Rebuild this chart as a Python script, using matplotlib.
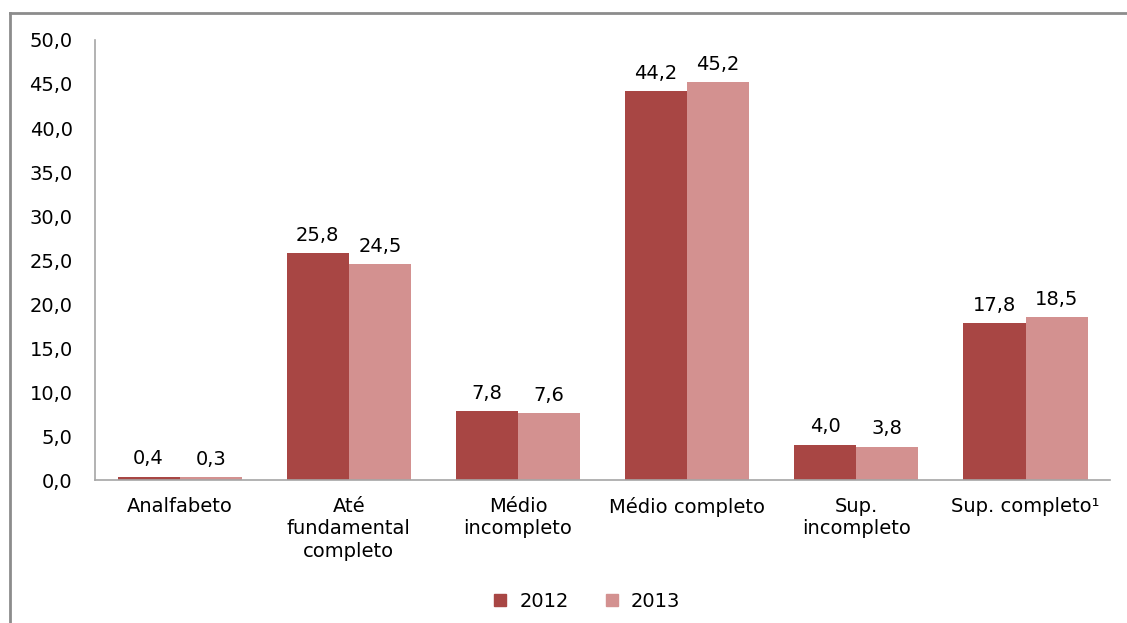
import matplotlib
matplotlib.use("Agg")
import matplotlib.pyplot as plt
from matplotlib.lines import Line2D
import numpy as np

plt.rcParams['font.family'] = ['DejaVu Sans']

categories = ["Analfabeto", "Até\nfundamental\ncompleto", "Médio\nincompleto",
              "Médio completo", "Sup.\nincompleto", "Sup. completo¹"]
series_names = ["2012", "2013"]
values_2012 = [0.4, 25.8, 7.8, 44.2, 4.0, 17.8]
values_2013 = [0.3, 24.5, 7.6, 45.2, 3.8, 18.5]
yticks = [0, 5, 10, 15, 20, 25, 30, 35, 40, 45, 50]

colors = ["#A84644", "#D39190"]
fs = 14

fig = plt.figure(figsize=(11.27, 6.23), dpi=100)
ax = fig.add_axes([0.0843, 0.2295, 0.9007, 0.7063])

x = np.arange(len(categories))
w = 0.367
fmt = lambda v: f"{v:.1f}".replace(".", ",")
for vals, off, c in [(values_2012, -w / 2, colors[0]), (values_2013, w / 2, colors[1])]:
    bars = ax.bar(x + off, vals, width=w, color=c)
    for b, v in zip(bars, vals):
        ax.annotate(fmt(v), (b.get_x() + b.get_width() / 2, v), xytext=(0, 6),
                    textcoords="offset points", ha="center", va="bottom", fontsize=fs)

ax.set_xlim(-0.5, len(categories) - 0.5)
ax.set_ylim(0, 50)
ax.set_yticks(yticks)
ax.set_yticklabels([fmt(v) for v in yticks], fontsize=fs)
ax.set_xticks(x)
ax.set_xticklabels(categories, fontsize=fs, linespacing=1.25, va="top")
ax.tick_params(axis="x", length=0, pad=12)
ax.tick_params(axis="y", length=0, pad=16)
for s in ["top", "right"]:
    ax.spines[s].set_visible(False)
for s in ["left", "bottom"]:
    ax.spines[s].set_color("#A6A6A6")
    ax.spines[s].set_linewidth(1.2)

handles = [Line2D([], [], marker="s", linestyle="none", markersize=9,
                  markerfacecolor=c, markeredgecolor=c) for c in colors]
fig.legend(handles, series_names, loc="center", bbox_to_anchor=(0.515, 0.035),
           ncol=2, frameon=False, fontsize=fs, handletextpad=0.0, columnspacing=1.2)

# outer frame lines
fig.add_artist(Line2D([0.009, 1.0], [0.979, 0.979], transform=fig.transFigure,
                      color="#8C8C8C", linewidth=2))
fig.add_artist(Line2D([0.009, 0.009], [0.0, 0.979], transform=fig.transFigure,
                      color="#8C8C8C", linewidth=2))

fig.savefig("out.png", dpi=100)
